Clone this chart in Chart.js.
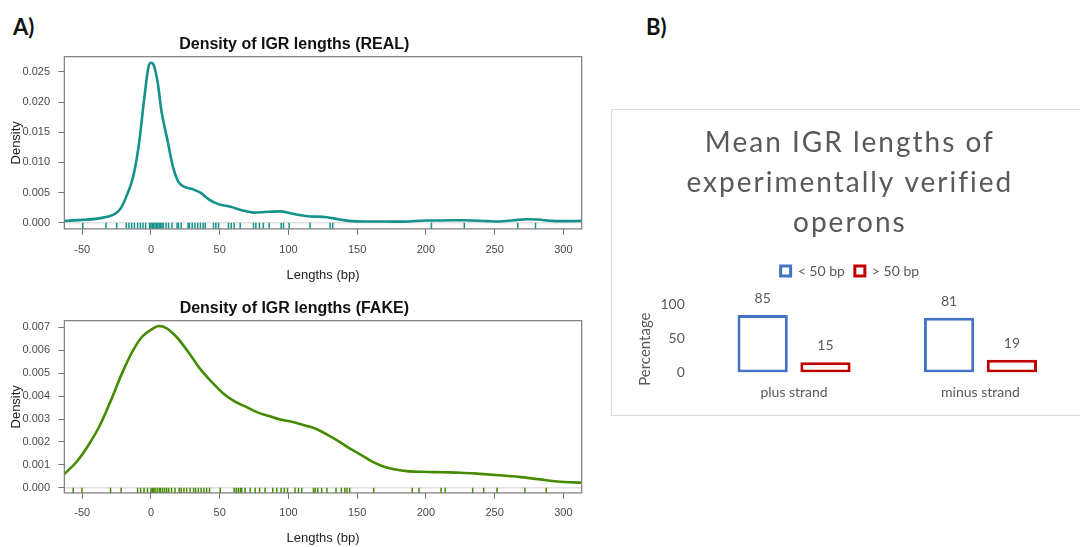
<!DOCTYPE html>
<html>
<head>
<meta charset="utf-8">
<script src="https://cdn.jsdelivr.net/npm/chart.js@4.4.1/dist/chart.umd.min.js"></script>
<style>
  html, body { margin: 0; padding: 0; background: #fff; width: 1080px; height: 547px; overflow: hidden; }
  .abs { position: absolute; }
  .panel { font-family: Lato, "Open Sans", sans-serif; font-weight: bold; font-size: 22px; color: #111; line-height: 1; }
  #boxB { left: 611px; top: 109px; width: 490px; height: 305px; border: 1px solid #d9d9d9; }
</style>
</head>
<body>
<div class="abs panel" style="left:13px; top:16px;">A)</div>
<div class="abs panel" style="left:646px; top:16px;">B)</div>
<canvas id="real" class="abs" style="left:0; top:30px;" width="600" height="253"></canvas>
<canvas id="fake" class="abs" style="left:0; top:290px;" width="600" height="256"></canvas>
<div id="boxB" class="abs"></div>
<canvas id="bars" class="abs" style="left:612px; top:110px;" width="468" height="304"></canvas>
<script>
// ---------------- data ----------------
const xTicks = [-50, 0, 50, 100, 150, 200, 250, 300];

const realX = [-63, -50, -40, -32, -26, -22, -18, -13, -9, -5, -2, 0, 2, 5, 7.5, 12, 16, 20, 24, 30, 36, 42, 49, 58, 66, 75, 83, 94, 102, 114, 128, 136, 144, 156, 170, 184, 200, 211, 228, 245, 253, 264, 274, 281, 292, 304, 314];
const realY = [0.0003, 0.0005, 0.00066, 0.001, 0.0015, 0.0024, 0.0043, 0.0076, 0.0126, 0.0203, 0.0256, 0.0265, 0.0261, 0.0231, 0.0187, 0.0137, 0.0093, 0.0068, 0.006, 0.0056, 0.005, 0.0039, 0.0031, 0.00265, 0.0021, 0.0017, 0.0018, 0.0019, 0.00155, 0.0011, 0.00094, 0.0006, 0.00033, 0.00022, 0.00022, 0.0002, 0.0004, 0.0004, 0.00044, 0.00028, 0.00022, 0.00044, 0.0006, 0.00055, 0.00033, 0.00028, 0.00033];
const realRug = [-49.6, -32.7, -24.9, -17.9, -16, -14, -12, -9.7, -7.7, -5.8, -3.9, -1, 0, 1, 2, 3, 4, 5, 6, 7, 8, 9, 11, 12.8, 15.3, 19, 20, 22, 27, 28, 30, 32, 34, 36, 38, 39.5, 45.5, 47.2, 49.2, 56.4, 58.4, 60.5, 64.9, 74.6, 76.3, 78.9, 81.8, 86, 94.7, 96.4, 100.5, 115.7, 130.3, 132.2, 204, 227.9, 266.8, 279.7];
const realYTicks = [0, 0.005, 0.010, 0.015, 0.020, 0.025];

const fakeX = [-63, -54, -45.5, -37, -29, -20.5, -13.5, -6.5, 0.5, 6, 11.5, 18.5, 27, 35.5, 44, 52, 60.5, 69, 77.5, 86, 94, 102.5, 111, 119.5, 127.5, 136, 144.5, 153, 161, 169.5, 178, 186, 197.5, 211.5, 225.5, 239.5, 253.5, 267.5, 281.5, 295.5, 314];
const fakeY = [0.0006, 0.00114, 0.00186, 0.00274, 0.00383, 0.00507, 0.00594, 0.00659, 0.00691, 0.00706, 0.00696, 0.00659, 0.00594, 0.00521, 0.00463, 0.00415, 0.00378, 0.00354, 0.00329, 0.00313, 0.00298, 0.00288, 0.00274, 0.00259, 0.00234, 0.00205, 0.00172, 0.00143, 0.00114, 0.00092, 0.0008, 0.00073, 0.0007, 0.00068, 0.00066, 0.00061, 0.00055, 0.00048, 0.00038, 0.00028, 0.00022];
const fakeRug = [-56.5, -50.2, -29.4, -21.7, -9.7, -7.5, -5, -2.5, 0, 1, 2, 3, 4.5, 6, 7, 8.5, 10, 11.5, 13, 15, 17.5, 20.5, 22, 24, 26, 28.5, 31, 32.5, 34.5, 36.5, 38.5, 40.5, 42.6, 50.4, 60.5, 62, 63.5, 65, 66, 68.5, 72.2, 75.8, 79, 83, 88.6, 91.5, 94.7, 97, 99.3, 104.8, 107.3, 109.7, 118.2, 119.5, 121.3, 124.2, 128, 134.6, 138.5, 141, 142.6, 144.6, 162, 190, 195, 211, 214, 234, 242, 251.7, 272, 287.5];
const fakeYTicks = [0, 0.001, 0.002, 0.003, 0.004, 0.005, 0.006, 0.007];

const strandCategories = ['plus strand', 'minus strand'];
const shortShare = [85, 81];   // < 50 bp
const longShare = [15, 19];    // > 50 bp
const barYTicks = [0, 50, 100];

// ---------------- density panels ----------------
const rFrame = {
  id: 'rFrame',
  beforeDatasetsDraw(chart) {
    const { ctx, chartArea: a, scales: { y } } = chart;
    const y0 = y.getPixelForValue(0);
    ctx.save();
    ctx.strokeStyle = '#d2d2d2';
    ctx.lineWidth = 1;
    ctx.beginPath(); ctx.moveTo(a.left, y0); ctx.lineTo(a.right, y0); ctx.stroke();
    ctx.restore();
  },
  afterDatasetsDraw(chart) {
    const { ctx, chartArea: a } = chart;
    ctx.save();
    ctx.strokeStyle = '#7a7a7a';
    ctx.lineWidth = 1.2;
    ctx.strokeRect(a.left, a.top, a.right - a.left, a.bottom - a.top);
    ctx.restore();
  }
};

function densityChart(id, cfg) {
  const curve = cfg.xs.map((x, i) => ({ x, y: cfg.ys[i] }));
  const rug = cfg.rug.map(x => ({ x, y: cfg.rugY }));
  return new Chart(document.getElementById(id), {
    type: 'line',
    data: {
      datasets: [
        { data: curve, borderColor: cfg.color, borderWidth: 2.6, pointRadius: 0, fill: false, cubicInterpolationMode: 'monotone' },
        { type: 'scatter', data: rug, pointStyle: 'line', rotation: 90, radius: cfg.rugR, borderColor: cfg.color, borderWidth: 1.5, backgroundColor: cfg.color }
      ]
    },
    options: {
      responsive: false, animation: false, events: [],
      layout: { padding: { left: 6.9, right: 18.3, top: 0, bottom: 0 } },
      plugins: {
        legend: { display: false }, tooltip: { enabled: false },
        title: { display: true, text: cfg.title, color: '#111', font: { family: 'Liberation Sans', size: 16, weight: 'bold', lineHeight: 1.2 }, padding: { top: cfg.titleTop, bottom: cfg.titleBottom } }
      },
      scales: {
        x: {
          type: 'linear', min: -63, max: 313.3,
          afterBuildTicks: s => { s.ticks = xTicks.map(v => ({ value: v })); },
          grid: { display: true, drawOnChartArea: false, drawTicks: true, tickLength: 6, color: '#777' },
          border: { display: false },
          ticks: { color: '#4a4a4a', font: { family: 'Liberation Sans', size: 11 }, padding: cfg.xTickPad, maxRotation: 0, autoSkip: false, callback: v => String(v) },
          title: { display: true, text: 'Lengths (bp)', color: '#222', font: { family: 'Liberation Sans', size: 13 }, padding: { top: cfg.xTitlePad, bottom: 0 } }
        },
        y: {
          min: cfg.ymin, max: cfg.ymax,
          afterBuildTicks: s => { s.ticks = cfg.yTicks.map(v => ({ value: v })); },
          grid: { display: true, drawOnChartArea: false, drawTicks: true, tickLength: 6, color: '#777' },
          border: { display: false },
          ticks: { color: '#4a4a4a', font: { family: 'Liberation Sans', size: 11 }, padding: 8.3, autoSkip: false, callback: v => v.toFixed(3) },
          title: { display: true, text: 'Density', color: '#222', font: { family: 'Liberation Sans', size: 13 }, padding: { top: 2, bottom: -10.3 } }
        }
      }
    },
    plugins: [rFrame]
  });
}

densityChart('real', {
  title: 'Density of IGR lengths (REAL)', color: '#15918c',
  xs: realX, ys: realY, rug: realRug, rugY: -0.00046, rugR: 3,
  ymin: -0.001, ymax: 0.0275, yTicks: realYTicks,
  titleTop: 5.4, titleBottom: 2.1, xTickPad: 8, xTitlePad: 3.3
});

densityChart('fake', {
  title: 'Density of IGR lengths (FAKE)', color: '#458b00',
  xs: fakeX, ys: fakeY, rug: fakeRug, rugY: -0.000122, rugR: 2.8,
  ymin: -0.00022, ymax: 0.00729, yTicks: fakeYTicks,
  titleTop: 9.4, titleBottom: 2.1, xTickPad: 7.7, xTitlePad: 2.9
});

// ---------------- bar panel ----------------
const panelTweaks = {
  id: 'panelTweaks',
  beforeLayout(chart) {
    const lg = chart.legend;
    if (lg && !lg._gapPatched) {
      const fit = lg.fit;
      lg.fit = function () { fit.call(this); this.height += 16.8; };
      lg._gapPatched = true;
    }
    const tb = chart.titleBlock;
    if (tb && !tb._spacePatched) {
      const draw = tb.draw;
      tb.draw = function () {
        const c = this.ctx;
        const prev = c.letterSpacing;
        c.letterSpacing = '2px';
        draw.call(this);
        c.letterSpacing = prev || '0px';
      };
      tb._spacePatched = true;
    }
  },
  afterLayout(chart) {
    const ys = chart.scales.y;
    if (ys && !ys._titlePatched) {
      const dt = ys.drawTitle;
      ys.drawTitle = function () {
        const c = this.ctx;
        c.save();
        c.translate(0, 10.5);
        dt.apply(this, arguments);
        c.restore();
      };
      ys._titlePatched = true;
    }
  }
};
const barLabels = {
  id: 'barLabels',
  afterDatasetsDraw(chart) {
    const ctx = chart.ctx;
    ctx.save();
    ctx.font = '14px Lato';
    ctx.fillStyle = '#595959';
    ctx.textAlign = 'center';
    ctx.textBaseline = 'middle';
    chart.data.datasets.forEach((ds, i) => {
      chart.getDatasetMeta(i).data.forEach((el, j) => {
        ctx.fillText(String(ds.data[j]), el.x, el.y - 16.5);
      });
    });
    ctx.restore();
  }
};

const txt = '#595959';
const f14 = { family: 'Lato', size: 14 };
new Chart(document.getElementById('bars'), {
  type: 'bar',
  data: {
    labels: strandCategories,
    datasets: [
      { label: '< 50 bp', data: shortShare, borderColor: '#4472c4', backgroundColor: '#ffffff', borderWidth: 3, borderSkipped: false, categoryPercentage: 0.674, barPercentage: 0.8 },
      { label: '> 50 bp', data: longShare, borderColor: '#c00000', backgroundColor: '#ffffff', borderWidth: 3, borderSkipped: false, categoryPercentage: 0.674, barPercentage: 0.8 }
    ]
  },
  options: {
    responsive: false, animation: false, events: [],
    layout: { padding: { left: 14, right: 6.3, top: 0, bottom: 0.7 } },
    plugins: {
      tooltip: { enabled: false },
      title: { display: true, text: ['Mean IGR lengths of', 'experimentally verified', 'operons'], color: txt, font: { family: 'Lato', size: 28, weight: 'normal', lineHeight: 40 / 28 }, padding: { top: 13, bottom: 11 } },
      legend: { labels: { boxWidth: 10, boxHeight: 10, font: f14, color: txt, padding: 10 } }
    },
    scales: {
      x: { grid: { display: false, drawTicks: false }, border: { display: false }, ticks: { font: f14, color: txt, padding: 12 } },
      y: {
        min: 0, max: 100,
        afterBuildTicks: s => { s.ticks = barYTicks.map(v => ({ value: v })); },
        grid: { display: false, drawTicks: false }, border: { display: false },
        ticks: { font: f14, color: txt, padding: 16 },
        title: { display: true, text: 'Percentage', font: { family: 'Lato', size: 15 }, color: txt, padding: { top: 10, bottom: -9.5 } }
      }
    }
  },
  plugins: [panelTweaks, barLabels]
});
</script>
</body>
</html>
